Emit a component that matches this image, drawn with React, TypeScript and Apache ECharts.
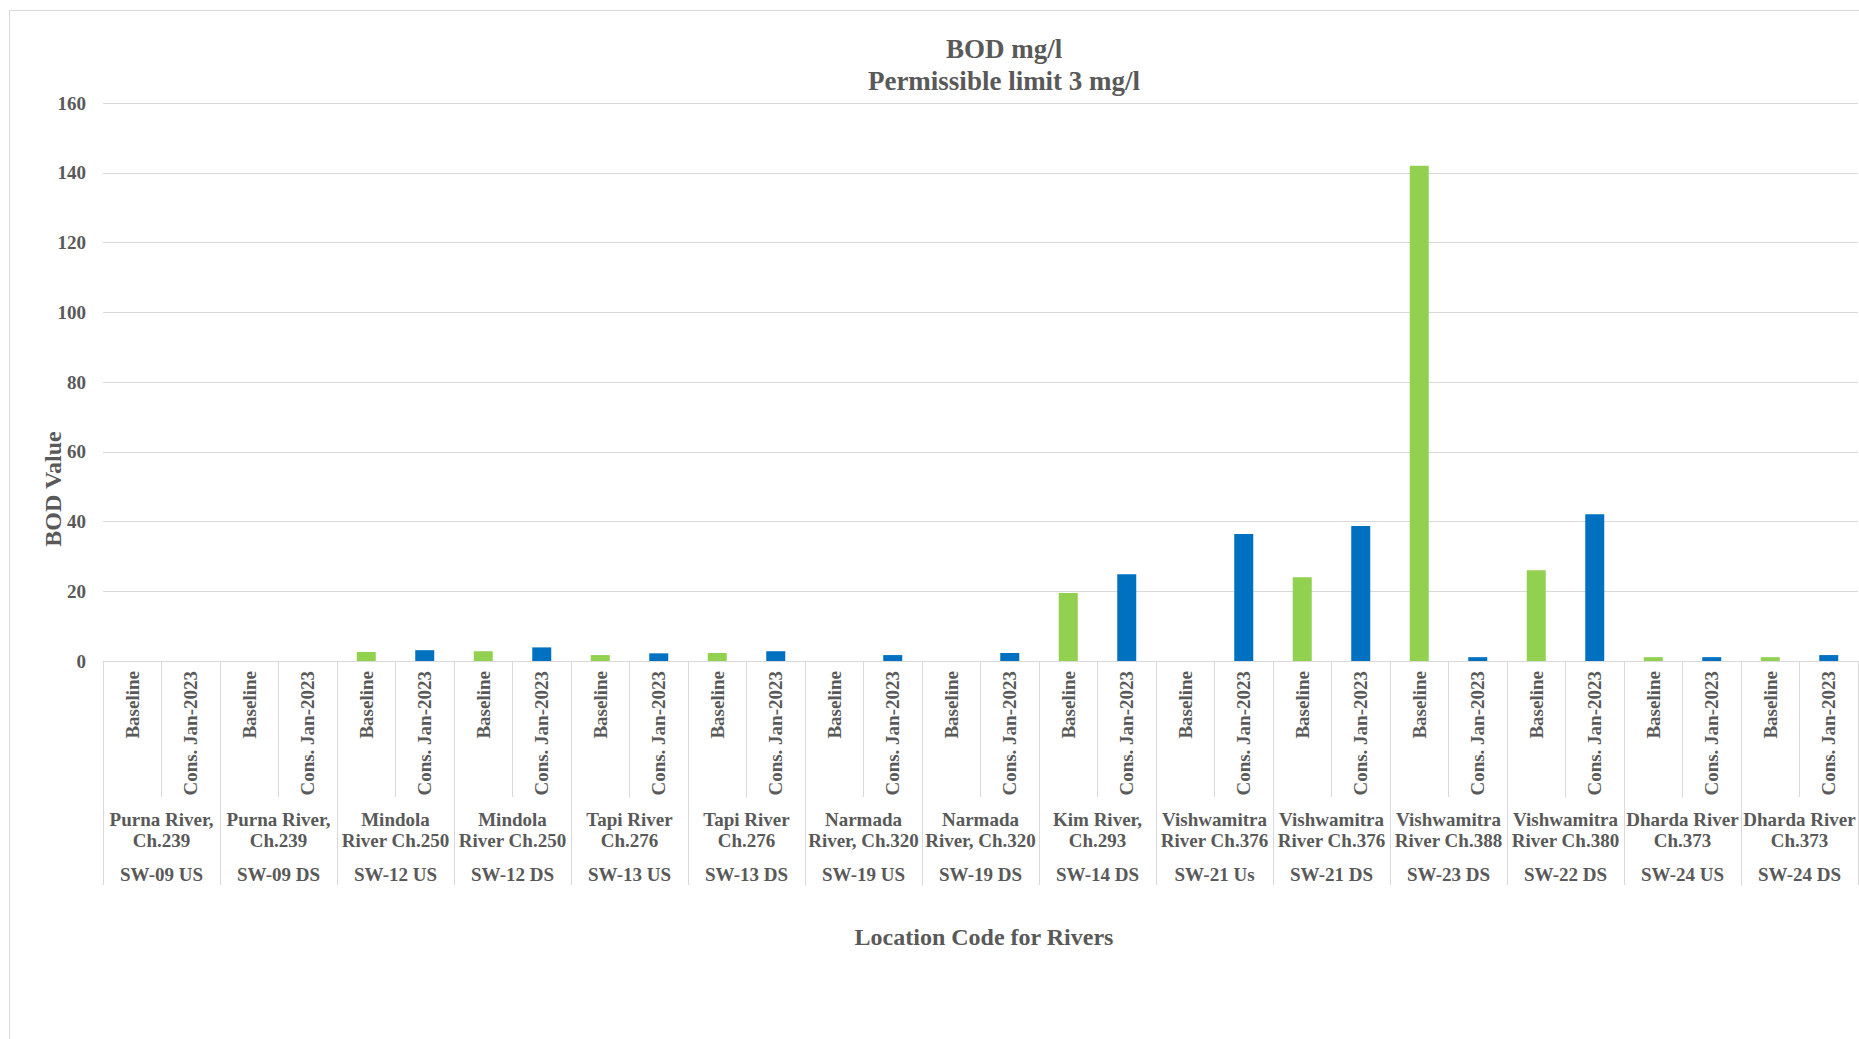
import React, { useEffect, useRef } from "react";
import * as echarts from "echarts";

// ---- Data ----
const codes = [
  "SW-09 US", "SW-09 DS", "SW-12 US", "SW-12 DS", "SW-13 US", "SW-13 DS",
  "SW-19 US", "SW-19 DS", "SW-14 DS", "SW-21 Us", "SW-21 DS", "SW-23 DS",
  "SW-22 DS", "SW-24 US", "SW-24 DS",
];
const locations = [
  "Purna River,\nCh.239", "Purna River,\nCh.239",
  "Mindola\nRiver Ch.250", "Mindola\nRiver Ch.250",
  "Tapi River\nCh.276", "Tapi River\nCh.276",
  "Narmada\nRiver, Ch.320", "Narmada\nRiver, Ch.320",
  "Kim River,\nCh.293",
  "Vishwamitra\nRiver Ch.376", "Vishwamitra\nRiver Ch.376",
  "Vishwamitra\nRiver Ch.388", "Vishwamitra\nRiver Ch.380",
  "Dharda River\nCh.373", "Dharda River\nCh.373",
];
const subLabels = ["Baseline", "Cons. Jan-2023"];
const baseline: (number | null)[] = [
  null, null, 2.6, 2.8, 1.7, 2.3, null, null, 19.5, null, 24.0, 142.0, 26.0, 1.1, 1.1,
];
const consJan2023: (number | null)[] = [
  null, null, 3.1, 3.9, 2.2, 2.8, 1.7, 2.3, 24.9, 36.4, 38.7, 1.1, 42.1, 1.1, 1.7,
];
const yMin = 0;
const yMax = 160;
const yInterval = 20;

const titleLines = ["BOD mg/l", "Permissible limit 3 mg/l"];
const yAxisTitle = "BOD Value";
const xAxisTitle = "Location Code for Rivers";

const FONT = "'Liberation Serif', 'Times New Roman', serif";
const GREY = "#595959";
const LINE = "#d9d9d9";
const GREEN = "#92D050";
const BLUE = "#0070C0";

export default function App() {
  const ref = useRef<HTMLDivElement>(null);

  useEffect(() => {
    if (!ref.current) return;
    const chart = echarts.init(ref.current, null, { renderer: "svg" });

    const subCats = codes.flatMap((c) => subLabels.map((s) => `${c}|${s}`));
    const baseData = baseline.flatMap((v) => [v, null]);
    const consData = consJan2023.flatMap((v) => [null, v]);

    const labelStyle = {
      fontFamily: FONT,
      fontWeight: "bold" as const,
      fontSize: 19,
      color: GREY,
    };

    const textEl = (
      text: string,
      x: number,
      y: number,
      size: number,
      rotation = 0
    ) => ({
      type: "text",
      x,
      y,
      rotation,
      silent: true,
      style: {
        text,
        fill: GREY,
        fontFamily: FONT,
        fontWeight: "bold",
        fontSize: size,
        align: "center",
        verticalAlign: "middle",
        textAlign: "center",
        textVerticalAlign: "middle",
      },
    });

    chart.setOption({
      animation: false,
      backgroundColor: "#ffffff",
      grid: {
        left: 103,
        right: 1,
        top: 103,
        bottom: 378,
        containLabel: false,
        outerBoundsMode: "none",
      },
      xAxis: [
        {
          type: "category",
          data: subCats,
          position: "bottom",
          boundaryGap: true,
          axisLine: { show: true, lineStyle: { color: LINE, width: 1 } },
          axisTick: {
            show: true,
            interval: 0,
            length: 136,
            lineStyle: { color: LINE },
          },
          axisLabel: {
            ...labelStyle,
            interval: 0,
            rotate: 90,
            margin: 10,
            formatter: (_v: string, i: number) => subLabels[i % 2],
          },
          splitLine: { show: false },
        },
        {
          type: "category",
          data: codes,
          position: "bottom",
          axisLine: { show: false },
          axisTick: {
            show: true,
            interval: 0,
            length: 224,
            lineStyle: { color: LINE },
          },
          axisLabel: {
            ...labelStyle,
            interval: 0,
            margin: 148,
            lineHeight: 21,
            formatter: (_v: string, i: number) => locations[i],
          },
          splitLine: { show: false },
        },
        {
          type: "category",
          data: codes,
          position: "bottom",
          axisLine: { show: false },
          axisTick: { show: false },
          axisLabel: {
            ...labelStyle,
            interval: 0,
            margin: 203,
            lineHeight: 21,
          },
          splitLine: { show: false },
        },
      ],
      yAxis: {
        type: "value",
        min: yMin,
        max: yMax,
        interval: yInterval,
        axisLine: { show: false },
        axisTick: { show: false },
        splitLine: { show: true, lineStyle: { color: LINE, width: 1 } },
        axisLabel: { ...labelStyle, margin: 17 },
      },
      series: [
        {
          name: subLabels[0],
          type: "bar",
          stack: "bod",
          xAxisIndex: 0,
          data: baseData,
          barWidth: 19,
          itemStyle: { color: GREEN },
        },
        {
          name: subLabels[1],
          type: "bar",
          stack: "bod",
          xAxisIndex: 0,
          data: consData,
          barWidth: 19,
          itemStyle: { color: BLUE },
        },
      ],
      graphic: [
        {
          type: "rect",
          silent: true,
          shape: { x: 9.5, y: 10.5, width: 3000, height: 3000 },
          style: { fill: "none", stroke: LINE, lineWidth: 1 },
          z: -1,
        },
        textEl(titleLines[0], 1004, 48.5, 27),
        textEl(titleLines[1], 1004, 80.5, 27),
        textEl(yAxisTitle, 53, 489, 24, Math.PI / 2),
        textEl(xAxisTitle, 984, 937, 24),
      ],
    });

    return () => chart.dispose();
  }, []);

  return (
    <div
      ref={ref}
      style={{
        position: "absolute",
        left: 0,
        top: 0,
        width: 1859,
        height: 1039,
      }}
    />
  );
}
